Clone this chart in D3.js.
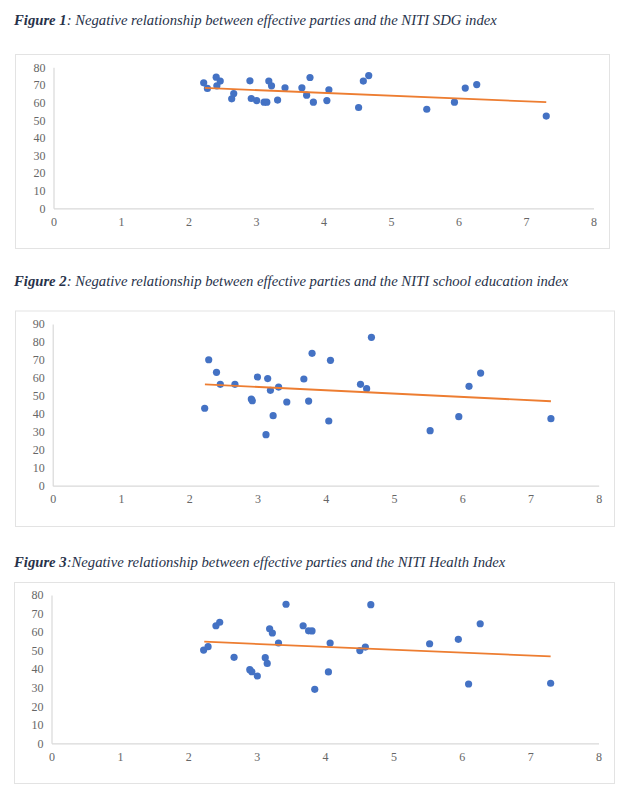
<!DOCTYPE html>
<html>
<head>
<meta charset="utf-8">
<script src="https://cdn.jsdelivr.net/npm/d3@7/dist/d3.min.js"></script>
<style>
  html, body { margin: 0; padding: 0; background: #fff; }
  svg { display: block; }
</style>
</head>
<body>
<svg id="chart" width="632" height="796"></svg>
<script>
// ---------- DATA ----------
const titlesBold = ["Figure 1", "Figure 2", "Figure 3"];
const titlesRest = [
  ": Negative relationship between effective parties and the NITI SDG index",
  ": Negative relationship between effective parties and the NITI school education index",
  ":Negative relationship between effective parties and the NITI Health Index"
];
const xTicks = [0, 1, 2, 3, 4, 5, 6, 7, 8];
const yTicks1 = [0, 10, 20, 30, 40, 50, 60, 70, 80];
const yTicks2 = [0, 10, 20, 30, 40, 50, 60, 70, 80, 90];
const yTicks3 = [0, 10, 20, 30, 40, 50, 60, 70, 80];

const effParties1 = [2.225, 2.28, 2.41, 2.42, 2.47, 2.64, 2.67, 2.91, 2.93, 3.01, 3.12, 3.16, 3.19, 3.23, 3.32, 3.43, 3.68, 3.75, 3.80, 3.85, 4.05, 4.08, 4.52, 4.59, 4.67, 5.53, 5.94, 6.10, 6.27, 7.30];
const sdgIndex = [71.2, 68.0, 74.4, 69.5, 72.2, 62.1, 65.1, 72.3, 62.3, 61.1, 60.2, 60.2, 72.2, 69.5, 61.4, 68.4, 68.4, 64.2, 74.2, 60.2, 61.1, 67.2, 57.2, 72.2, 75.3, 56.2, 60.2, 68.2, 70.2, 52.3];
const sdgTrend = [[2.24, 68.3], [7.30, 60.2]];

const effParties2 = [2.227, 2.286, 2.40, 2.456, 2.67, 2.91, 2.925, 3.00, 3.125, 3.15, 3.19, 3.23, 3.31, 3.43, 3.68, 3.75, 3.80, 4.045, 4.07, 4.51, 4.60, 4.67, 5.53, 5.95, 6.10, 6.27, 7.30];
const educationIndex = [43.1, 70.1, 63.1, 56.4, 56.4, 48.2, 47.3, 60.5, 28.4, 59.6, 53.1, 39.0, 54.9, 46.6, 59.4, 47.1, 73.7, 36.0, 69.8, 56.4, 54.0, 82.6, 30.6, 38.4, 55.3, 62.7, 37.3];
const educationTrend = [[2.23, 56.4], [7.30, 47.0]];

const effParties3 = [2.225, 2.29, 2.405, 2.46, 2.67, 2.90, 2.93, 3.01, 3.126, 3.155, 3.19, 3.23, 3.32, 3.43, 3.68, 3.76, 3.81, 3.85, 4.05, 4.075, 4.51, 4.59, 4.67, 5.53, 5.95, 6.10, 6.27, 7.30];
const healthIndex = [50.3, 52.1, 63.4, 65.3, 46.4, 39.7, 38.6, 36.3, 46.2, 43.1, 61.8, 59.5, 54.1, 75.0, 63.4, 60.7, 60.6, 29.1, 38.5, 54.1, 50.0, 51.9, 74.8, 53.7, 56.1, 32.0, 64.5, 32.4];
const healthTrend = [[2.234, 54.8], [7.30, 46.9]];

// ---------- LAYOUT ----------
const panels = [
  { xs: effParties1, ys: sdgIndex, trend: sdgTrend, yTicks: yTicks1,
    titleY: 25, box: [15, 54, 609, 248], x0: 53.5, x1: 593.5, y0: 208.3, y1: 67.3 },
  { xs: effParties2, ys: educationIndex, trend: educationTrend, yTicks: yTicks2,
    titleY: 286, box: [15, 310.5, 614, 526], x0: 52.7, x1: 598.7, y0: 485.7, y1: 324 },
  { xs: effParties3, ys: healthIndex, trend: healthTrend, yTicks: yTicks3,
    titleY: 567, box: [14, 582, 614, 783], x0: 51.5, x1: 598.5, y0: 743.3, y1: 595 }
];

const svg = d3.select("#chart");
const tickFont = "'Liberation Serif', 'Times New Roman', serif";
const tickColor = "#666666";
const axisColor = "#d9d9d9";

panels.forEach((p, i) => {
  // title
  const t = svg.append("text")
    .attr("x", 14).attr("y", p.titleY)
    .attr("font-family", tickFont)
    .attr("font-style", "italic")
    .attr("font-size", "14.7px")
    .attr("fill", "#27324a");
  t.append("tspan").attr("font-weight", "bold").text(titlesBold[i]);
  t.append("tspan").text(titlesRest[i]);

  // box
  const [bx0, by0, bx1, by1] = p.box;
  svg.append("rect")
    .attr("x", bx0 + 0.5).attr("y", by0 + 0.5)
    .attr("width", bx1 - bx0).attr("height", by1 - by0)
    .attr("fill", "#fff").attr("stroke", "#e3e3e3").attr("stroke-width", 1);

  const yMax = p.yTicks[p.yTicks.length - 1];
  const x = d3.scaleLinear().domain([0, 8]).range([p.x0, p.x1]);
  const y = d3.scaleLinear().domain([0, yMax]).range([p.y0, p.y1]);

  // x axis
  const gx = svg.append("g")
    .attr("transform", `translate(0,${p.y0})`)
    .call(d3.axisBottom(x).tickValues(xTicks).tickSize(0).tickPadding(9).tickFormat(d3.format("d")));
  gx.select(".domain").attr("stroke", axisColor).attr("stroke-width", 1.2);
  gx.selectAll("text").attr("font-family", tickFont).attr("font-size", "12px").attr("fill", tickColor);

  // y axis
  const gy = svg.append("g")
    .attr("transform", `translate(${p.x0},0)`)
    .call(d3.axisLeft(y).tickValues(p.yTicks).tickSize(0).tickPadding(8).tickFormat(d3.format("d")));
  gy.select(".domain").attr("stroke", axisColor).attr("stroke-width", 1.2);
  gy.selectAll("text").attr("font-family", tickFont).attr("font-size", "12px").attr("fill", tickColor);

  // points
  const pts = p.xs.map((v, k) => [v, p.ys[k]]);
  svg.append("g").selectAll("circle")
    .data(pts).join("circle")
    .attr("cx", d => x(d[0])).attr("cy", d => y(d[1]))
    .attr("r", 3.6).attr("fill", "#4472c4");

  // trend
  svg.append("path")
    .datum(p.trend)
    .attr("d", d3.line().x(d => x(d[0])).y(d => y(d[1])))
    .attr("stroke", "#ed7d31").attr("stroke-width", 1.8).attr("fill", "none");
});
</script>
</body>
</html>
